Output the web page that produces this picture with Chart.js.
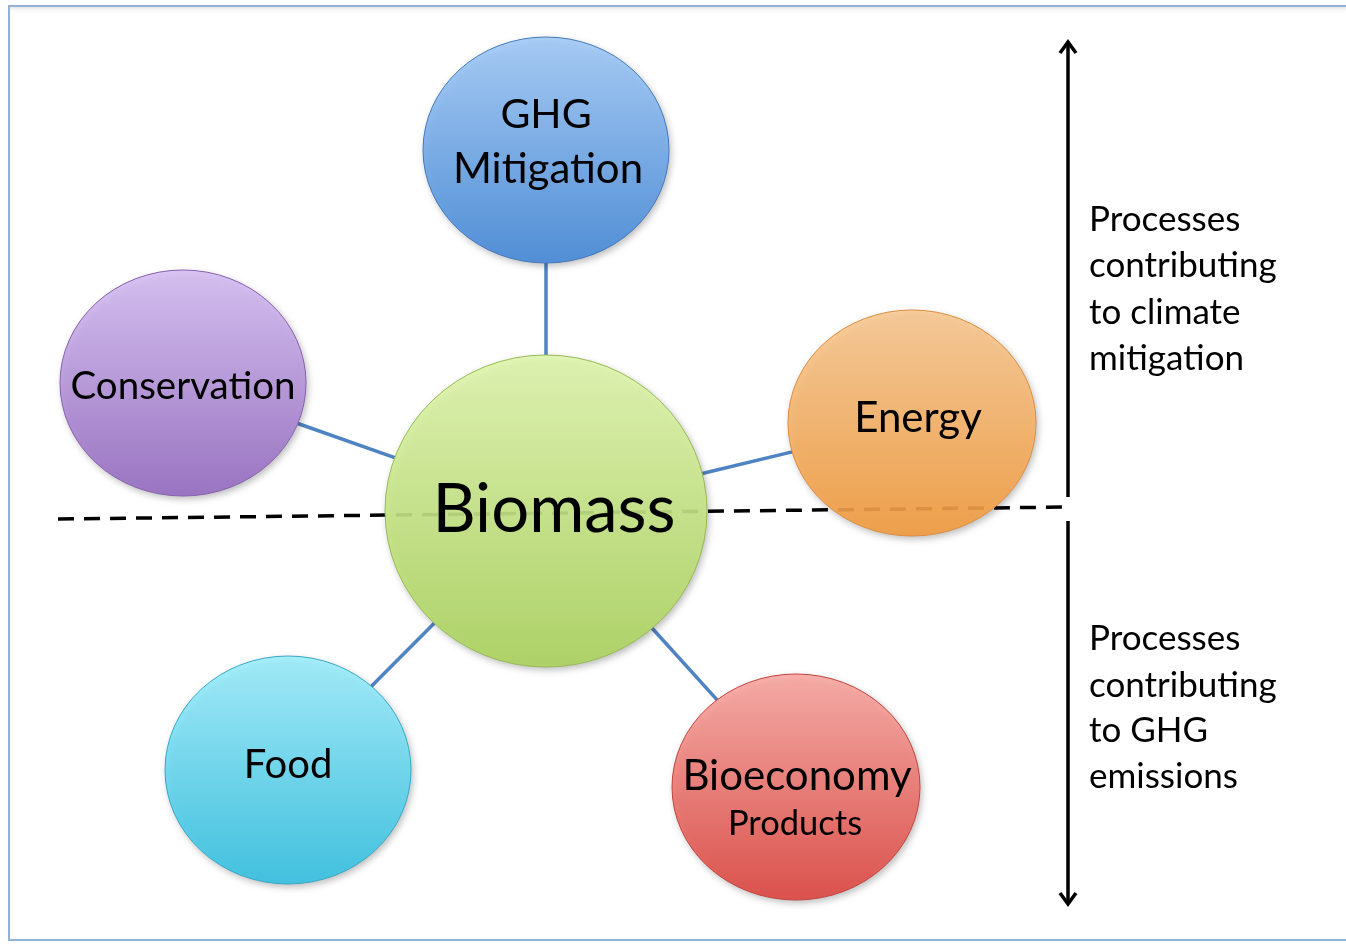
<!DOCTYPE html>
<html>
<head>
<meta charset="utf-8">
<script src="https://cdn.jsdelivr.net/npm/chart.js@4/dist/chart.umd.min.js"></script>
<style>
  html, body { margin: 0; padding: 0; background: #fff; }
  #wrap { width: 1346px; height: 944px; position: relative; }
</style>
</head>
<body>
<div id="wrap"><canvas id="diagram"></canvas></div>
<script>
// nodes of the diagram (page units, y grows downwards)
const nodeNames = ['GHG Mitigation', 'Conservation', 'Biomass', 'Energy', 'Food', 'Bioeconomy Products'];
const nodeX  = [546, 183, 546, 912, 288, 796];
const nodeY  = [150, 383, 511, 423, 770, 787];
const nodeRX = [123, 123, 161, 124, 123, 124];
const nodeRY = [113, 113, 156, 113, 114, 113];

// label lines: text, centre x, baseline y, size
const labelText  = [['GHG', 'Mitigation'], ['Conservation'], ['Biomass'], ['Energy'], ['Food'], ['Bioeconomy', 'Products']];
const labelX     = [[546, 548], [183], [554], [918], [288], [797, 795]];
const labelY     = [[128, 183], [399], [532], [432], [778], [790, 835]];
const labelSize  = [[41, 42], [38.5], [67], [42], [40], [42, 34.5]];

// links from the centre node to the others
const linkFrom = [2, 2, 2, 2, 2];
const linkTo   = [0, 1, 3, 4, 5];

// dashed divider and the two arrows on the right
const dividerX = [58, 1070];
const dividerY = [519, 507];
const arrowX = 1068;
const arrowUpY = [497, 42];
const arrowDownY = [521, 904];

const sideTop    = ['Processes', 'contributing', 'to climate', 'mitigation'];
const sideTopY   = [231, 277, 324, 370];
const sideBottom = ['Processes', 'contributing', 'to GHG', 'emissions'];
const sideBottomY = [650, 697, 742, 788];
const sideX = 1089;

const nodeColors = [
    { top: '#a2cbf9', bottom: '#4589d8', edge: '#4479bb' },
    { top: '#d6bff4', bottom: '#966cc2', edge: '#8762ae' },
    { top: '#e0f6ae', bottom: '#acd45e', edge: '#98bb55' },
    { top: '#f9c993', bottom: '#f39c3e', edge: '#dc8e40' },
    { top: '#9eeefd', bottom: '#34c1e2', edge: '#38a9c7' },
    { top: '#faa8a2', bottom: '#de4640', edge: '#c4443e' }
];
const FONT = 'Lato, "Open Sans", sans-serif';

// cut a centre-to-centre link at the ellipse edges
function edgePoint(i, ux, uy) {
    const t = 1 / Math.sqrt((ux / nodeRX[i]) ** 2 + (uy / nodeRY[i]) ** 2);
    return { x: nodeX[i] + ux * t, y: nodeY[i] + uy * t };
}

const datasets = [];

linkFrom.forEach((a, k) => {
    const b = linkTo[k];
    const dx = nodeX[b] - nodeX[a], dy = nodeY[b] - nodeY[a];
    const len = Math.hypot(dx, dy);
    const ux = dx / len, uy = dy / len;
    const p1 = edgePoint(a, ux, uy);
    const p2 = edgePoint(b, -ux, -uy);
    datasets.push({
        data: [p1, p2],
        showLine: true,
        borderColor: '#4f83c2',
        borderWidth: 3.5,
        pointRadius: 0
    });
});

datasets.push({
    data: [{ x: dividerX[0], y: dividerY[0] }, { x: dividerX[1], y: dividerY[1] }],
    showLine: true,
    borderColor: '#000',
    borderWidth: 3.5,
    borderDash: [16, 10],
    pointRadius: 0
});

[arrowUpY, arrowDownY].forEach(ys => {
    datasets.push({
        data: [{ x: arrowX, y: ys[0] }, { x: arrowX, y: ys[1] }],
        showLine: true,
        borderColor: '#000',
        borderWidth: 3.5,
        pointRadius: 0,
        arrowHead: true
    });
});

const diagramPlugin = {
    id: 'diagram',
    beforeDraw(chart) {
        const ctx = chart.ctx;
        ctx.save();
        ctx.fillStyle = '#fff';
        ctx.fillRect(0, 0, chart.width, chart.height);
        // frame
        const g = ctx.createLinearGradient(0, 7, 0, 14);
        g.addColorStop(0, 'rgba(200,200,200,0.45)');
        g.addColorStop(1, 'rgba(255,255,255,0)');
        ctx.fillStyle = g;
        ctx.fillRect(10, 7, chart.width, 7);
        ctx.strokeStyle = '#93b1d4';
        ctx.lineWidth = 2;
        ctx.beginPath();
        ctx.moveTo(chart.width + 2, 6);
        ctx.lineTo(9, 6);
        ctx.lineTo(9, 940);
        ctx.lineTo(chart.width + 2, 940);
        ctx.stroke();
        ctx.restore();
    },
    afterDatasetsDraw(chart) {
        const ctx = chart.ctx;
        const xs = chart.scales.x, ys = chart.scales.y;

        // arrow heads
        chart.data.datasets.forEach(ds => {
            if (!ds.arrowHead) return;
            const a = ds.data[0], b = ds.data[1];
            const px = xs.getPixelForValue(b.x), py = ys.getPixelForValue(b.y);
            const dir = Math.sign(ys.getPixelForValue(b.y) - ys.getPixelForValue(a.y));
            ctx.save();
            ctx.strokeStyle = '#000';
            ctx.lineWidth = 3.5;
            ctx.lineJoin = 'miter';
            ctx.beginPath();
            ctx.moveTo(px - 8, py - dir * 11);
            ctx.lineTo(px, py);
            ctx.lineTo(px + 8, py - dir * 11);
            ctx.stroke();
            ctx.restore();
        });

        // circles
        nodeNames.forEach((name, i) => {
            const cx = xs.getPixelForValue(nodeX[i]);
            const cy = ys.getPixelForValue(nodeY[i]);
            const rx = xs.getPixelForValue(nodeX[i] + nodeRX[i]) - cx;
            const ry = ys.getPixelForValue(nodeY[i] + nodeRY[i]) - cy;
            const c = nodeColors[i];
            ctx.save();
            ctx.beginPath();
            ctx.ellipse(cx, cy, rx, ry, 0, 0, Math.PI * 2);
            ctx.shadowColor = 'rgba(0,0,0,0.3)';
            ctx.shadowBlur = 7;
            ctx.shadowOffsetX = 2;
            ctx.shadowOffsetY = 3;
            const grad = ctx.createLinearGradient(0, cy - ry, 0, cy + ry);
            grad.addColorStop(0, c.top);
            grad.addColorStop(1, c.bottom);
            ctx.globalAlpha = 0.9;
            ctx.fillStyle = grad;
            ctx.fill();
            ctx.shadowColor = 'transparent';
            ctx.globalAlpha = 1;
            ctx.strokeStyle = c.edge;
            ctx.lineWidth = 1;
            ctx.stroke();
            ctx.restore();
        });

        // labels
        ctx.save();
        ctx.fillStyle = '#000';
        ctx.textAlign = 'center';
        ctx.textBaseline = 'alphabetic';
        labelText.forEach((lines, i) => {
            lines.forEach((t, j) => {
                ctx.font = labelSize[i][j] + 'px ' + FONT;
                ctx.fillText(t, xs.getPixelForValue(labelX[i][j]), ys.getPixelForValue(labelY[i][j]));
            });
        });
        ctx.textAlign = 'left';
        ctx.font = '35px ' + FONT;
        sideTop.forEach((t, j) => ctx.fillText(t, xs.getPixelForValue(sideX), ys.getPixelForValue(sideTopY[j])));
        sideBottom.forEach((t, j) => ctx.fillText(t, xs.getPixelForValue(sideX), ys.getPixelForValue(sideBottomY[j])));
        ctx.restore();
    }
};

new Chart(document.getElementById('diagram'), {
    type: 'scatter',
    data: { datasets: datasets },
    options: {
        responsive: true,
        maintainAspectRatio: false,
        animation: false,
        events: [],
        layout: { padding: 0 },
        scales: {
            x: { type: 'linear', min: 0, max: 1346, display: false },
            y: { type: 'linear', min: 0, max: 944, reverse: true, display: false }
        },
        plugins: {
            legend: { display: false },
            tooltip: { enabled: false }
        }
    },
    plugins: [diagramPlugin]
});
</script>
</body>
</html>
